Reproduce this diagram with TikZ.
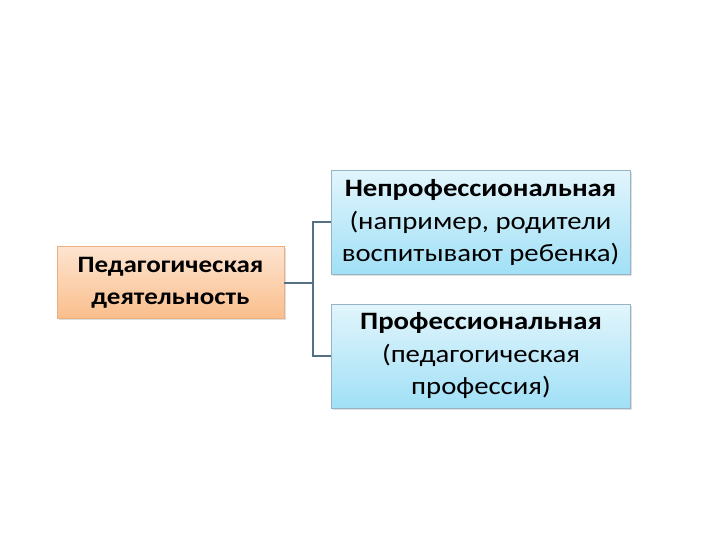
\documentclass[tikz,border=0pt]{standalone}
\usepackage{fontspec}
\setmainfont{Carlito}[FakeStretch=1.15]
\usetikzlibrary{positioning,shadows}
\definecolor{pdtop}{RGB}{253,228,208}
\definecolor{pdbot}{RGB}{250,190,140}
\definecolor{pdline}{RGB}{236,176,128}
\definecolor{kindtop}{RGB}{226,245,252}
\definecolor{kindbot}{RGB}{160,224,246}
\definecolor{kindline}{RGB}{150,180,196}
\definecolor{linkcol}{RGB}{84,112,132}

\tikzset{
  box/.style={draw,line width=0.8pt,align=center,inner sep=0pt,
    drop shadow={shadow xshift=1.5pt,shadow yshift=-1.5pt,opacity=0.25}},
  rootbox/.style={box,draw=pdline,top color=pdtop,bottom color=pdbot,
    font=\fontsize{23.5}{32}\selectfont,
    minimum width=227pt,minimum height=72pt},
  kindbox/.style={box,draw=kindline,top color=kindtop,bottom color=kindbot,
    font=\fontsize{25}{32.5}\selectfont,
    minimum width=299pt,minimum height=104pt},
  link/.style={draw=linkcol,line width=2pt}
}

\begin{document}
\begin{tikzpicture}[x=1pt,y=-1pt]
    \useasboundingbox[fill=white] (0,0) rectangle (720,540);
    % Boxes
    \node[rootbox] (pd) at (170.5,282.5) {\bfseries Педагогическая\\\bfseries деятельность};
    \node[kindbox] (np) at (480.5,222.5) {\bfseries Непрофессиональная\\(например, родители\\воспитывают ребенка)};
    \node[kindbox] (pr) at (481,356) {\bfseries Профессиональная\\(педагогическая\\профессия)};
    % Connections
    \draw[link] (pd.east) -- ++(29,0) coordinate (fork);
    \draw[link] (np.west) -| (fork) |- (pr.west);
\end{tikzpicture}
\end{document}
